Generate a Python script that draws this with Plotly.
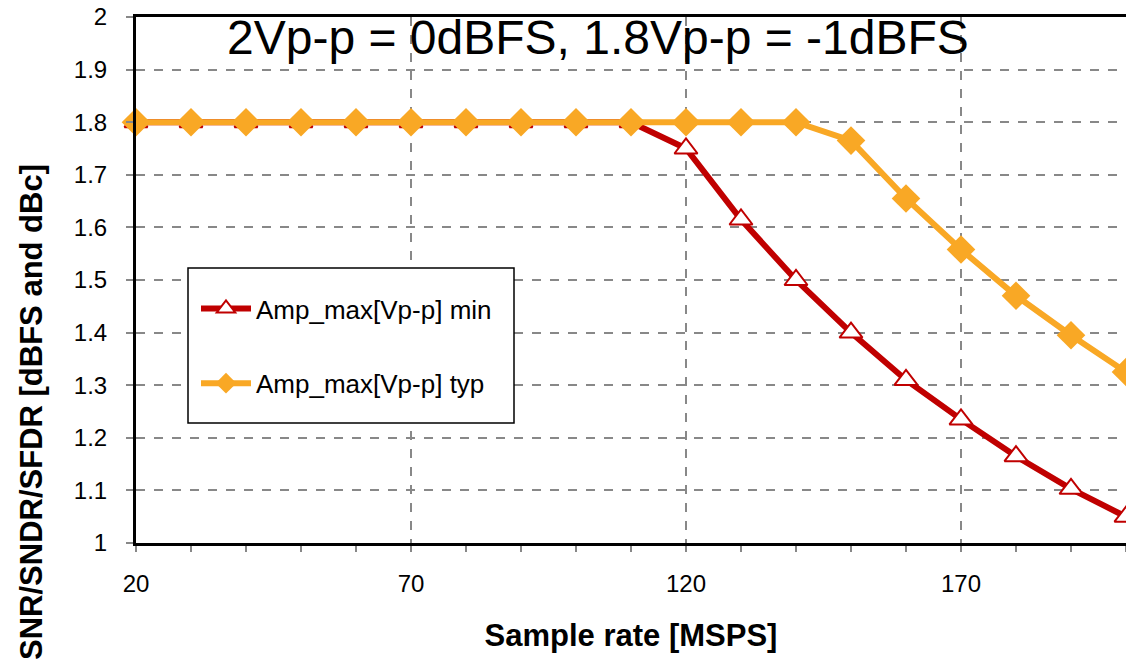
import plotly.graph_objects as go

x_rate = [20, 30, 40, 50, 60, 70, 80, 90, 100, 110, 120, 130, 140, 150, 160, 170, 180, 190, 200]
amp_min = [1.8, 1.8, 1.8, 1.8, 1.8, 1.8, 1.8, 1.8, 1.8, 1.8, 1.75, 1.615, 1.5, 1.4, 1.31, 1.235, 1.165, 1.103, 1.05]
amp_typ = [1.8, 1.8, 1.8, 1.8, 1.8, 1.8, 1.8, 1.8, 1.8, 1.8, 1.8, 1.8, 1.8, 1.765, 1.655, 1.558, 1.47, 1.395, 1.325]
x_ticks = [20, 70, 120, 170]
y_ticks = [1, 1.1, 1.2, 1.3, 1.4, 1.5, 1.6, 1.7, 1.8, 1.9, 2]

FONT = "Liberation Sans, Arial, sans-serif"
RED = "#C00000"
ORANGE = "#F9A825"

# body margin removed via post_script; plot area at x 136..1124, y 17..543
W, H = 1126, 669
ML, MT, MB, MR = 136, 17, 126, 0
PW, PH = W - ML - MR, H - MT - MB


def px(xp):
    return (xp - ML) / PW


def py(yp):
    return 1 - (yp - MT) / PH


fig = go.Figure()
fig.add_trace(go.Scatter(
    x=x_rate, y=amp_min, mode="lines+markers", name="Amp_max[Vp-p] min",
    line=dict(color=RED, width=6),
    marker=dict(symbol="triangle-up", size=20, color="white", line=dict(color=RED, width=2)),
    legendgroup="a", cliponaxis=False,
))
fig.add_trace(go.Scatter(
    x=x_rate, y=amp_typ, mode="lines+markers", name="Amp_max[Vp-p] typ",
    line=dict(color=ORANGE, width=6),
    marker=dict(symbol="diamond", size=22, color=ORANGE),
    legendgroup="b", cliponaxis=False,
))

fig.update_layout(
    width=W, height=H,
    margin=dict(l=ML, r=MR, t=MT, b=MB, autoexpand=False),
    paper_bgcolor="white", plot_bgcolor="white",
    font=dict(family=FONT, size=24, color="black"),
    showlegend=True,
    legend=dict(
        x=px(196), y=py(285), xanchor="left", yanchor="top",
        borderwidth=0, bgcolor="rgba(0,0,0,0)",
        font=dict(size=26), tracegroupgap=38,
        itemwidth=50,
    ),
    shapes=[
        dict(type="rect", xref="paper", yref="paper",
             x0=px(188), x1=px(514), y0=py(268), y1=py(423),
             line=dict(color="black", width=1.5), fillcolor="white", layer="above"),
    ],
    xaxis=dict(
        range=[20, 200], tickvals=x_ticks, ticks="", automargin=False,
        showgrid=True, gridcolor="#888888", griddash="dash", gridwidth=1.5,
        showline=True, linecolor="black", linewidth=3, mirror=True,
        zeroline=False, tickfont=dict(size=24), ticklabelstandoff=17,
        ticklabeloverflow="allow",
        minor=dict(dtick=10, tick0=20, ticks="outside", ticklen=6, tickcolor="#888888", tickwidth=1.5, showgrid=False),
        title=dict(text="<b>Sample rate [MSPS]</b>", font=dict(size=31), standoff=29),
    ),
    yaxis=dict(
        range=[1, 2], tickvals=y_ticks, ticktext=[("%g" % v) for v in y_ticks],
        ticks="outside", ticklen=7, tickcolor="#888888", tickwidth=1.5, automargin=False,
        showgrid=True, gridcolor="#888888", griddash="dash", gridwidth=1.5,
        showline=True, linecolor="black", linewidth=3, mirror=True,
        zeroline=False, tickfont=dict(size=24), ticklabelstandoff=14,
        ticklabeloverflow="allow",
    ),
    annotations=[
        dict(text="2Vp-p = 0dBFS, 1.8Vp-p = -1dBFS", xref="paper", yref="paper",
             x=px(598), y=py(38), xanchor="center", yanchor="middle",
             showarrow=False, font=dict(size=48, family=FONT)),
        dict(text="<b>SNR/SNDR/SFDR [dBFS and dBc]</b>", xref="paper", yref="paper",
             x=px(31), y=py(412), xanchor="center", yanchor="middle",
             textangle=-90, showarrow=False, font=dict(size=31, family=FONT)),
    ],
)

fig.write_html("out.html", config={"displayModeBar": False},
               post_script="document.body.style.margin='0';")
